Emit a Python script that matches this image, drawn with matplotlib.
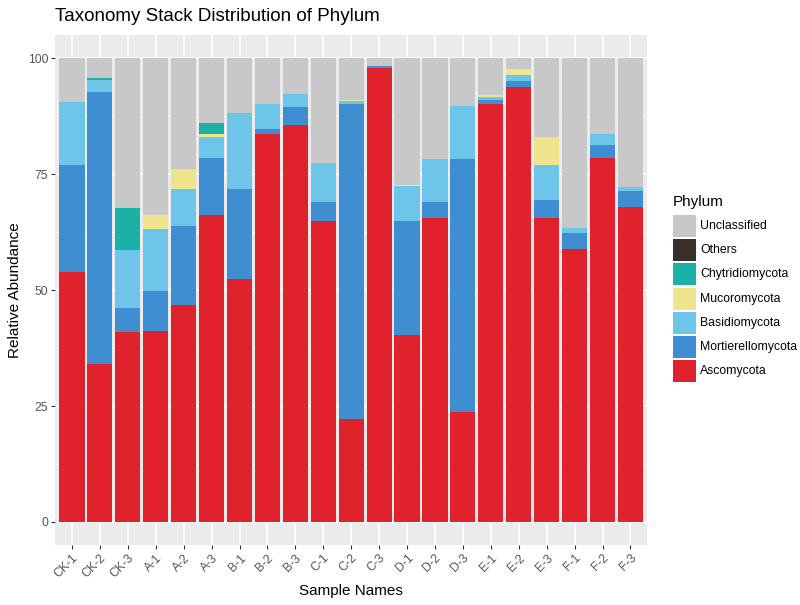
import numpy as np
import matplotlib as mpl
mpl.use('Agg')
import matplotlib.pyplot as plt
from matplotlib.patches import Rectangle

plt.rcParams['font.family'] = ['Liberation Sans', 'DejaVu Sans']

samples = ['CK-1', 'CK-2', 'CK-3', 'A-1', 'A-2', 'A-3', 'B-1', 'B-2', 'B-3',
           'C-1', 'C-2', 'C-3', 'D-1', 'D-2', 'D-3', 'E-1', 'E-2', 'E-3',
           'F-1', 'F-2', 'F-3']

ascomycota = [54.0, 34.0, 41.0, 41.1, 46.8, 66.3, 52.3, 83.6, 85.7, 64.8, 22.3,
              98.0, 40.3, 65.5, 23.8, 90.1, 93.8, 65.6, 58.9, 78.5, 67.9]
mortierellomycota = [23.0, 58.7, 5.2, 8.6, 17.1, 12.2, 19.4, 1.2, 3.8, 4.3, 67.9,
                     0.3, 24.7, 3.6, 54.4, 1.0, 1.3, 3.9, 3.4, 2.7, 3.4]
basidiomycota = [13.6, 2.7, 12.5, 13.5, 7.8, 4.5, 16.5, 5.4, 2.7, 8.3, 0.5,
                 0.1, 7.4, 9.2, 11.4, 0.6, 1.2, 7.4, 1.1, 2.5, 0.9]
mucoromycota = [0, 0, 0, 3.1, 4.5, 0.6, 0, 0, 0, 0, 0.3,
                0, 0.3, 0, 0, 0.4, 1.3, 6.1, 0, 0, 0]
chytridiomycota = [0, 0.4, 9.0, 0, 0, 2.5, 0, 0, 0, 0, 0,
                   0, 0, 0, 0, 0, 0, 0, 0, 0, 0]
others = [0] * 21
unclassified = [9.4, 4.2, 32.3, 33.7, 23.8, 13.9, 11.8, 9.8, 7.8, 22.6, 9.0,
                1.6, 27.3, 21.7, 10.4, 7.9, 2.4, 17.0, 36.6, 16.3, 27.8]

layers = [('Ascomycota', ascomycota, '#E0222C'),
          ('Mortierellomycota', mortierellomycota, '#3F8ED2'),
          ('Basidiomycota', basidiomycota, '#6DC6EA'),
          ('Mucoromycota', mucoromycota, '#EFE38C'),
          ('Chytridiomycota', chytridiomycota, '#1BB1A6'),
          ('Others', others, '#3A2E2A'),
          ('Unclassified', unclassified, '#C8C8C8')]

W, H = 800, 605
fig = plt.figure(figsize=(W / 100, H / 100), dpi=100)
ax = fig.add_axes([0.069, 0.099, 0.740, 0.843])
ax.set_facecolor('#EBEBEB')

x = np.arange(len(samples))
bottom = np.zeros(len(samples))
for name, vals, col in layers:
    vals = np.array(vals, dtype=float)
    ax.bar(x, vals, 0.9, bottom=bottom, color=col, linewidth=0, label=name, zorder=3)
    bottom += vals

ax.set_ylim(-5, 105)
ax.set_xlim(-0.6, len(samples) - 0.4)
ax.set_yticks([0, 25, 50, 75, 100])
ax.set_yticks([12.5, 37.5, 62.5, 87.5], minor=True)
ax.set_xticks(x)
ax.set_xticklabels(samples, rotation=45, ha='right', rotation_mode='anchor')
ax.grid(True, which='major', color='white', linewidth=1.1, zorder=0)
ax.grid(True, which='minor', axis='y', color='white', linewidth=0.5, zorder=0)
ax.set_axisbelow(True)
for s in ax.spines.values():
    s.set_visible(False)
ax.tick_params(axis='both', which='major', colors='#333333', labelcolor='#555555',
               labelsize=8.8, length=3, width=0.8, pad=2)
ax.tick_params(axis='both', which='minor', length=0)

ax.set_xlabel('Sample Names', fontsize=11, color='black', labelpad=3)
ax.set_ylabel('Relative Abundance', fontsize=11, color='black', labelpad=4)
fig.text(0.069, 0.973, 'Taxonomy Stack Distribution of Phylum', fontsize=13.5,
         ha='left', va='center')

# legend drawn by hand, ggplot style (keys 23x22 px, pitch ~24 px)
lx, ly = 673, 215
fig.text(lx / W, 1 - 202 / H, 'Phylum', fontsize=11, ha='left', va='center')
for i, (name, vals, col) in enumerate(layers[::-1]):
    top = ly + i * 24.2
    fig.add_artist(Rectangle((lx / W, 1 - (top + 22) / H), 23 / W, 22 / H,
                             transform=fig.transFigure, facecolor=col, edgecolor='none'))
    fig.text((lx + 27) / W, 1 - (top + 11) / H, name, fontsize=8.8, ha='left', va='center')

fig.savefig('out.png', dpi=100)
